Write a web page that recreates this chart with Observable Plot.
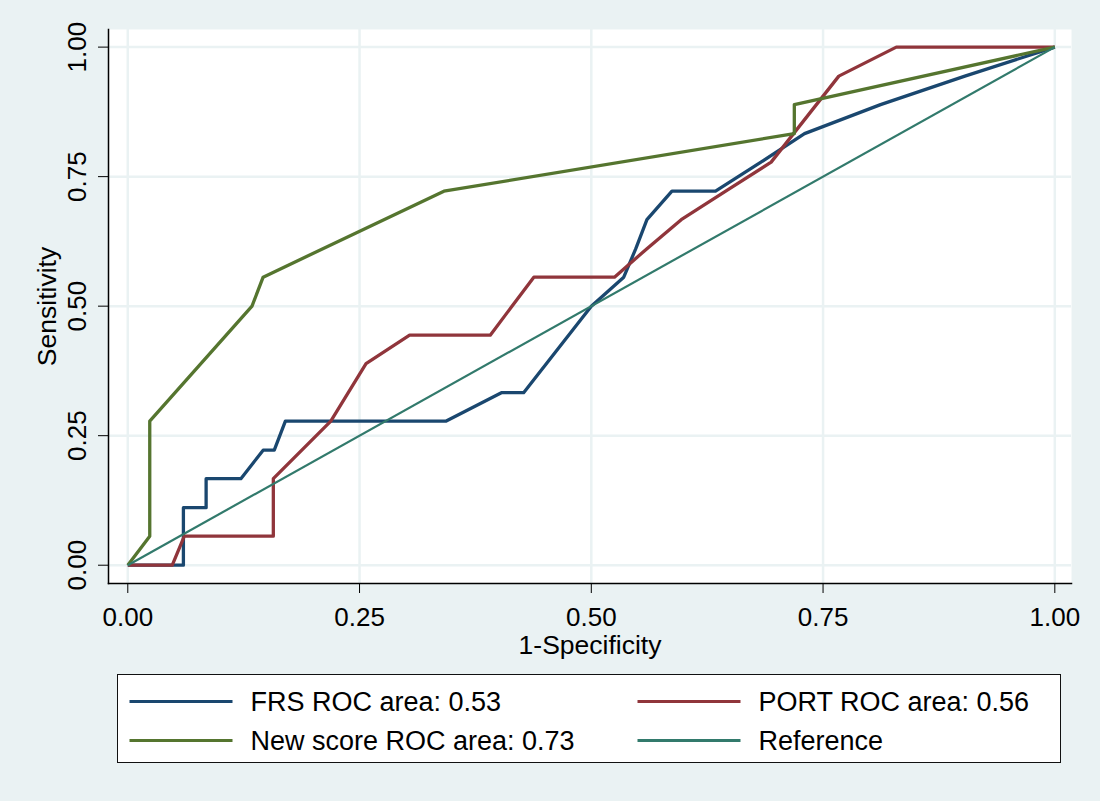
<!DOCTYPE html>
<html>
<head>
<meta charset="utf-8">
<script src="https://cdn.jsdelivr.net/npm/d3@7"></script>
<script src="https://cdn.jsdelivr.net/npm/@observablehq/plot@0.6"></script>
<style>
  html, body { margin: 0; padding: 0; background: #EAF2F3; }
  #page { position: relative; width: 1100px; height: 801px; background: #EAF2F3; overflow: hidden;
          font-family: "Liberation Sans", Arial, sans-serif; }
  #chart { position: absolute; left: 0; top: 0; }
  #legend { position: absolute; left: 117px; top: 674px; width: 944px; height: 89px; box-sizing: border-box;
            border: 1.5px solid #111; background: #fff; }
</style>
</head>
<body>
<div id="page">
  <div id="chart"></div>
  <div id="legend"></div>
</div>
<script>
// ---- data ----
const xTicks = [0, 0.25, 0.5, 0.75, 1];
const yTicks = [0, 0.25, 0.5, 0.75, 1];

const frsX = [0, 0.060, 0.060, 0.0845, 0.0845, 0.122, 0.146, 0.158, 0.170, 0.343, 0.403, 0.427, 0.500, 0.535, 0.548, 0.560, 0.587, 0.634, 0.683, 0.730, 0.812, 0.903, 1];
const frsY = [0, 0, 0.111, 0.111, 0.167, 0.167, 0.222, 0.222, 0.278, 0.278, 0.333, 0.333, 0.500, 0.556, 0.611, 0.667, 0.722, 0.722, 0.778, 0.833, 0.889, 0.944, 1];

const portX = [0, 0.048, 0.061, 0.157, 0.157, 0.219, 0.257, 0.304, 0.391, 0.438, 0.525, 0.560, 0.597, 0.645, 0.694, 0.767, 0.829, 1];
const portY = [0, 0, 0.056, 0.056, 0.167, 0.278, 0.389, 0.444, 0.444, 0.556, 0.556, 0.611, 0.667, 0.722, 0.778, 0.944, 1, 1];

const newX = [0, 0.0237, 0.0237, 0.134, 0.146, 0.341, 0.719, 0.719, 1];
const newY = [0, 0.056, 0.278, 0.500, 0.556, 0.722, 0.833, 0.889, 1];

const refX = [0, 1];
const refY = [0, 1];

const seriesNames = ["FRS ROC area: 0.53", "PORT ROC area: 0.56", "New score ROC area: 0.73", "Reference"];
const seriesColors = ["#1A476F", "#90353B", "#55752F", "#327A6C"];
const seriesWidths = [3.3, 3.3, 3.3, 2.2];

// ---- build table ----
const xs = [frsX, portX, newX, refX];
const ys = [frsY, portY, newY, refY];
const rows = [];
xs.forEach((arr, s) => arr.forEach((x, i) => rows.push({series: seriesNames[s], x, y: ys[s][i]})));

const fmt = d3.format(".2f");
const FS = 26;

const lineMarks = seriesNames.map((name, s) =>
  Plot.line(rows.filter(r => r.series === name), {
    x: "x", y: "y", stroke: seriesColors[s], strokeWidth: seriesWidths[s],
    strokeLinejoin: "round", strokeLinecap: "butt"
  })
);

const chart = Plot.plot({
  width: 1100,
  height: 660,
  marginLeft: 108,
  marginRight: 29,
  marginTop: 29,
  marginBottom: 77,
  style: {background: "transparent", fontFamily: "'Liberation Sans', Arial, sans-serif", fontSize: FS + "px", color: "#000"},
  x: {domain: [-0.0208, 1.018]},
  y: {domain: [-0.0353, 1.034]},
  marks: [
    Plot.frame({fill: "white", stroke: null}),
    Plot.gridX(xTicks, {stroke: "#EAF2F3", strokeOpacity: 1, strokeWidth: 2.5}),
    Plot.gridY(yTicks, {stroke: "#EAF2F3", strokeOpacity: 1, strokeWidth: 2.5}),
    ...lineMarks,
    Plot.frame({anchor: "left", stroke: "#000", strokeWidth: 1.5}),
    Plot.frame({anchor: "bottom", stroke: "#000", strokeWidth: 1.5}),
    Plot.axisX(xTicks, {tickSize: 10, tickPadding: 14, tickFormat: fmt, label: null, fontSize: FS, stroke: "#000"}),
    Plot.axisY(yTicks, {tickSize: 10, tickFormat: () => "", label: null, stroke: "#000"}),
    Plot.text(yTicks, {y: d => d, text: d => fmt(d), frameAnchor: "left", dx: -23, rotate: -90,
      textAnchor: "middle", lineAnchor: "bottom", fontSize: FS, fill: "#000"}),
    Plot.text(["Sensitivity"], {text: d => d, frameAnchor: "left", dx: -53, rotate: -90,
      textAnchor: "middle", lineAnchor: "bottom", fontSize: 26.5, fill: "#000"}),
    Plot.text(["1-Specificity"], {text: d => d, frameAnchor: "bottom", dy: 70,
      textAnchor: "middle", lineAnchor: "bottom", fontSize: 26.5, fill: "#000"})
  ]
});
document.getElementById("chart").appendChild(chart);

// ---- legend ----
const lg = d3.select("#legend").append("svg").attr("width", 941).attr("height", 86)
  .style("display", "block").style("font-family", "'Liberation Sans', Arial, sans-serif");
const cols = [11.5, 519.5];
const rowsY = [26.5, 65.5];
seriesNames.forEach((name, i) => {
  const cx = cols[i % 2], cy = rowsY[Math.floor(i / 2)];
  lg.append("line").attr("x1", cx).attr("x2", cx + 103).attr("y1", cy).attr("y2", cy)
    .attr("stroke", seriesColors[i]).attr("stroke-width", 3);
  lg.append("text").attr("x", cx + 121).attr("y", cy).attr("dy", "0.35em")
    .attr("font-size", 27).attr("fill", "#000").text(name);
});
</script>
</body>
</html>
